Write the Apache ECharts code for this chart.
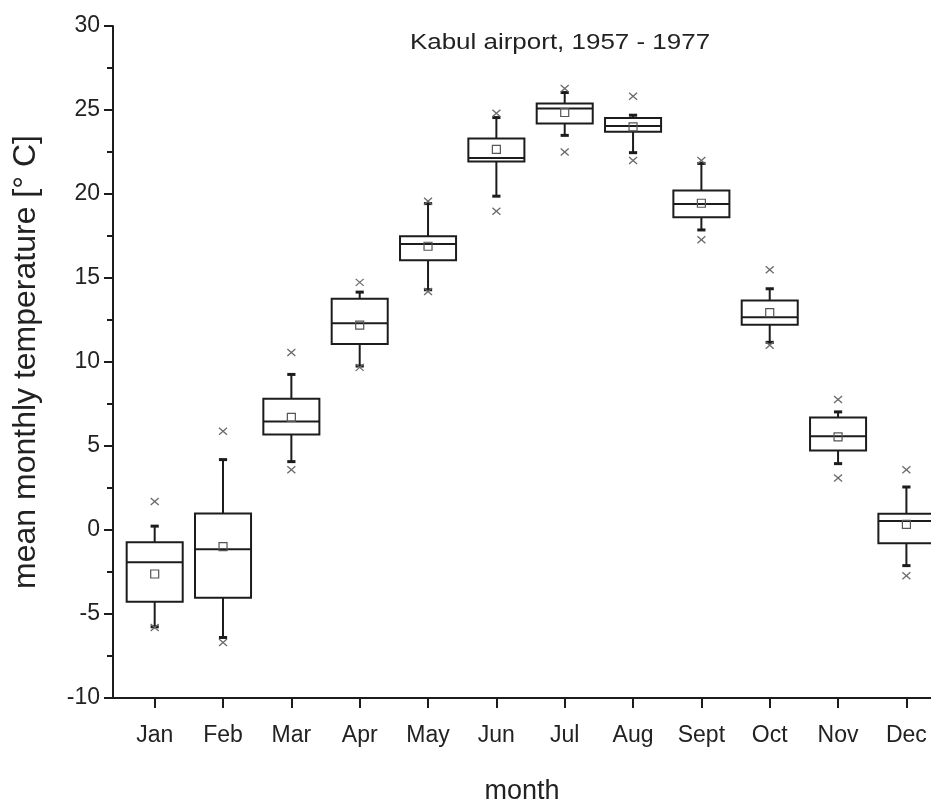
<!DOCTYPE html>
<html>
<head>
<meta charset="utf-8">
<script src="https://cdn.jsdelivr.net/npm/echarts@6/dist/echarts.min.js"></script>
<style>html,body{margin:0;padding:0;background:#fff;}#c{width:931px;height:807px;}</style>
</head>
<body>
<div id="c"></div>
<script>
var months = ['Jan','Feb','Mar','Apr','May','Jun','Jul','Aug','Sept','Oct','Nov','Dec'];
var whiskerLow  = [-5.76,-6.40, 4.07, 9.76,14.30,19.87,23.49,22.46,17.86,11.17, 3.95,-2.12];
var q1          = [-4.27,-4.03, 5.68,11.07,16.05,21.94,24.19,23.71,18.62,12.21, 4.73,-0.79];
var median      = [-1.92,-1.14, 6.46,12.31,17.03,22.14,25.09,24.05,19.41,12.67, 5.58, 0.53];
var q3          = [-0.73, 0.98, 7.81,13.76,17.48,23.31,25.38,24.53,20.21,13.66, 6.70, 0.97];
var whiskerHigh = [ 0.23, 4.19, 9.26,14.16,19.43,24.55,26.04,24.69,21.82,14.36, 7.03, 2.56];
var meanVal     = [-2.62,-0.99, 6.70,12.19,16.89,22.66,24.85,23.99,19.45,12.94, 5.54, 0.33];
var maxMark     = [ 1.70, 5.88,10.56,14.74,19.57,24.80,26.28,25.82,22.00,15.49, 7.77, 3.59];
var minMark     = [-5.80,-6.70, 3.59, 9.68,14.20,18.97,22.50,22.00,17.28,11.00, 3.09,-2.72];
var yTicks = [-10,-5,0,5,10,15,20,25,30];

var positions = months.map(function(m,i){return i+1;});
var data = months.map(function(m,i){
  return [positions[i], whiskerLow[i], q1[i], median[i], q3[i], whiskerHigh[i], meanVal[i], maxMark[i], minMark[i]];
});

var LINE = '#1c1c1c';
function renderItem(params, api){
  var x = api.value(0);
  var lo = api.coord([x, api.value(1)]);
  var b1 = api.coord([x, api.value(2)]);
  var md = api.coord([x, api.value(3)]);
  var b3 = api.coord([x, api.value(4)]);
  var hi = api.coord([x, api.value(5)]);
  var mn = api.coord([x, api.value(6)]);
  var mx = api.coord([x, api.value(7)]);
  var mi = api.coord([x, api.value(8)]);
  var hw = api.size([0.82, 0])[0] / 2;
  var cw = api.size([0.12, 0])[0] / 2;
  var cx = lo[0];
  var st = {stroke: LINE, lineWidth: 2, fill: null};
  var xs = {stroke: '#6a6a6a', lineWidth: 1.3};
  var children = [
    {type:'line', shape:{x1:cx,y1:b3[1],x2:cx,y2:hi[1]}, style:st},
    {type:'line', shape:{x1:cx,y1:b1[1],x2:cx,y2:lo[1]}, style:st},
    {type:'line', shape:{x1:cx-cw,y1:hi[1],x2:cx+cw,y2:hi[1]}, style:{stroke:LINE,lineWidth:3}},
    {type:'line', shape:{x1:cx-cw,y1:lo[1],x2:cx+cw,y2:lo[1]}, style:{stroke:LINE,lineWidth:3}},
    {type:'rect', shape:{x:cx-hw,y:b3[1],width:2*hw,height:b1[1]-b3[1]}, style:{stroke:LINE,lineWidth:2,fill:'#fff'}},
    {type:'line', shape:{x1:cx-hw,y1:md[1],x2:cx+hw,y2:md[1]}, style:st},
    {type:'rect', shape:{x:cx-4,y:mn[1]-4,width:8,height:8}, style:{stroke:'#555',lineWidth:1.2,fill:null}}
  ];
  [mx, mi].forEach(function(p){
    children.push({type:'line', shape:{x1:cx-4,y1:p[1]-3.5,x2:cx+4,y2:p[1]+3.5}, style:xs});
    children.push({type:'line', shape:{x1:cx-4,y1:p[1]+3.5,x2:cx+4,y2:p[1]-3.5}, style:xs});
  });
  return {type:'group', children:children};
}

var chart = echarts.init(document.getElementById('c'));
chart.setOption({
  animation: false,
  backgroundColor: '#fff',
  textStyle: {fontFamily: 'Liberation Sans, Arial, sans-serif'},
  graphic: [{
    type: 'text', x: 560, y: 43, scaleX: 1.18,
    style: {text: 'Kabul airport, 1957 - 1977', font: '22px "Liberation Sans", Arial, sans-serif', fill: '#222',
      textAlign: 'center', textVerticalAlign: 'middle'}
  }],
  grid: {left: 113, top: 26, right: 0, bottom: 109, containLabel: false, outerBoundsMode: 'none'},
  xAxis: {
    type: 'value', min: 0.39, max: 12.36,
    name: 'month', nameLocation: 'middle', nameGap: 80,
    nameTextStyle: {fontSize: 27, color: '#222'},
    splitLine: {show: false},
    axisLine: {show: true, onZero: false, lineStyle: {color: LINE, width: 2}},
    axisTick: {show: true, customValues: positions, length: 10, lineStyle: {color: LINE, width: 2}},
    axisLabel: {show: true, customValues: positions, margin: 26, fontSize: 23, color: '#222',
      formatter: function(v){ var i = Math.round(v) - 1; return months[i] || ''; }}
  },
  yAxis: {
    type: 'value', min: -10, max: 30, interval: 5,
    name: 'mean monthly temperature [° C]', nameLocation: 'middle', nameGap: 71,
    nameTextStyle: {fontSize: 32, color: '#222'},
    splitLine: {show: false},
    axisLine: {show: true, lineStyle: {color: LINE, width: 2}},
    axisTick: {show: true, length: 9, lineStyle: {color: LINE, width: 2}},
    minorTick: {show: true, splitNumber: 2, length: 6, lineStyle: {color: LINE, width: 2}},
    axisLabel: {margin: 13, fontSize: 23, color: '#222', customValues: yTicks}
  },
  series: [{
    type: 'custom', renderItem: renderItem, data: data, clip: false,
    encode: {x: 0, y: [1,2,3,4,5,6,7,8]}
  }]
});
</script>
</body>
</html>
